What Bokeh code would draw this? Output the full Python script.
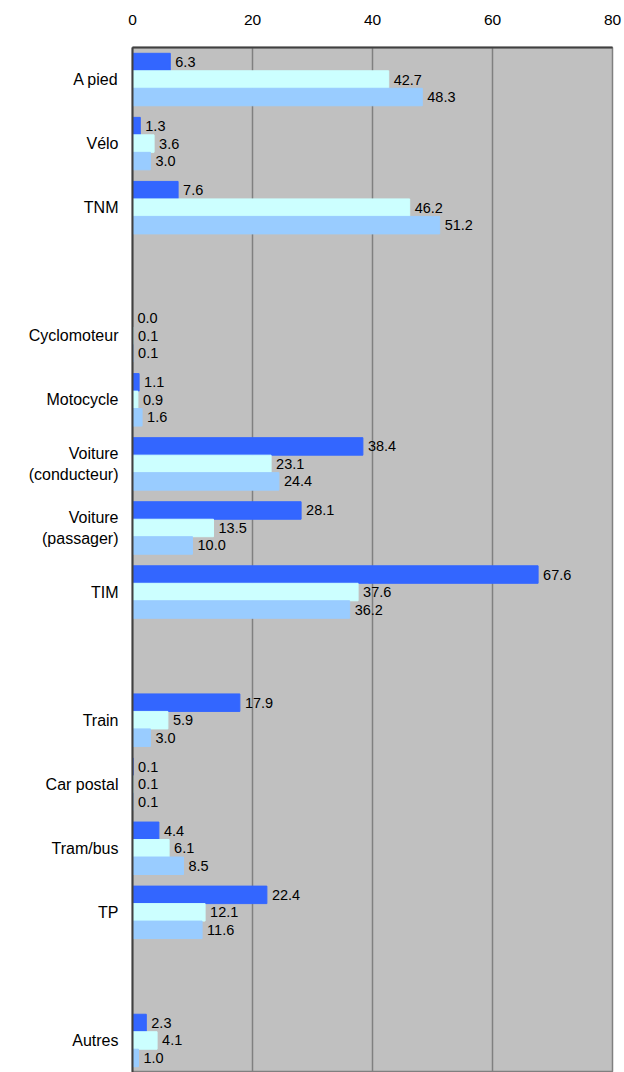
from bokeh.plotting import figure
from bokeh.models import FactorRange, ColumnDataSource
from bokeh.transform import dodge
from bokeh.embed import file_html
from bokeh.resources import INLINE

categories = ["A pied", "Vélo", "TNM", " ", "Cyclomoteur", "Motocycle",
              "Voiture\n(conducteur)", "Voiture\n(passager)", "TIM", "  ",
              "Train", "Car postal", "Tram/bus", "TP", "   ", "Autres"]
series_1 = [6.3, 1.3, 7.6, None, 0.0, 1.1, 38.4, 28.1, 67.6, None, 17.9, 0.1, 4.4, 22.4, None, 2.3]
series_2 = [42.7, 3.6, 46.2, None, 0.1, 0.9, 23.1, 13.5, 37.6, None, 5.9, 0.1, 6.1, 12.1, None, 4.1]
series_3 = [48.3, 3.0, 51.2, None, 0.1, 1.6, 24.4, 10.0, 36.2, None, 3.0, 0.1, 8.5, 11.6, None, 1.0]
x_ticks = [0, 20, 40, 60, 80]

colors = ["#3366FF", "#CCFFFF", "#99CCFF"]
offsets = [0.273, 0.0, -0.273]
FONT = "Liberation Sans"

p = figure(width=624, height=1072, output_backend="svg", toolbar_location=None,
           y_range=FactorRange(factors=list(reversed(categories)), range_padding=0),
           x_range=(0, 80), x_axis_location="above",
           min_border_left=132, min_border_right=12, min_border_top=47, min_border_bottom=0)
p.background_fill_color = "#C0C0C0"
p.outline_line_color = "#808080"
p.outline_line_width = 1.5

for vals, col, off in zip([series_1, series_2, series_3], colors, offsets):
    cats = [c for c, v in zip(categories, vals) if v is not None]
    vv = [v for v in vals if v is not None]
    src = ColumnDataSource(dict(cat=cats, val=vv, lab=["%.1f" % v for v in vv]))
    p.hbar(y=dodge("cat", off, range=p.y_range), right="val", left=0, height=0.273,
           source=src, fill_color=col, line_color=col)
    p.text(x="val", y=dodge("cat", off, range=p.y_range), text="lab", source=src,
           x_offset=5, text_baseline="middle", text_align="left",
           text_font_size="14.5px", text_color="black", text_font={"value": FONT})

p.xaxis.ticker = x_ticks
p.xaxis.major_label_text_font = FONT
p.xaxis.major_label_text_font_size = "15.5px"
p.xaxis.major_label_text_color = "black"
p.xaxis.major_tick_line_color = None
p.xaxis.minor_tick_line_color = None
p.xaxis.major_tick_out = 0
p.xaxis.major_tick_in = 0
p.xaxis.major_label_standoff = 23
p.xaxis.axis_line_color = "#404040"
p.xaxis.axis_line_width = 2

p.yaxis.major_label_text_font = FONT
p.yaxis.major_label_text_font_size = "16px"
p.yaxis.major_label_text_color = "black"
p.yaxis.major_tick_line_color = None
p.yaxis.major_tick_out = 0
p.yaxis.major_tick_in = 0
p.yaxis.major_label_standoff = 14
p.yaxis.axis_line_color = "#404040"
p.yaxis.axis_line_width = 2

p.xgrid.grid_line_color = "#808080"
p.xgrid.grid_line_width = 1.5
p.ygrid.grid_line_color = None

open("out.html", "w").write(file_html(p, INLINE))
